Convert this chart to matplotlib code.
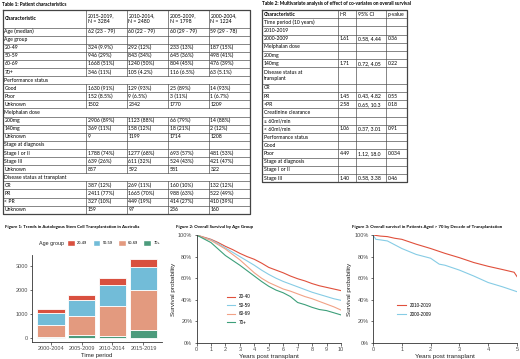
import numpy as np
import matplotlib.pyplot as plt
from matplotlib.patches import Patch

W, H = 520, 359
TAB_FONT = ["Lato", "DejaVu Sans"]
PLOT_FONT = ["Liberation Sans", "DejaVu Sans"]
plt.rcParams["font.family"] = PLOT_FONT

# ======================================================
# DATA - Table 1
# ======================================================
T1_HEAD = ["Characteristic", "2015-2019,\nN = 3284", "2010-2014,\nN = 2480",
           "2005-2009,\nN = 1798", "2000-2004,\nN = 1224"]
T1_ROWS = [
    ["Age (median)", "62 (23 - 79)", "60 (22 - 79)", "60 (29 - 79)", "59 (29 - 78)"],
    ["Age group", "", "", "", ""],
    ["20-49", "324 (9.9%)", "292 (12%)", "233 (13%)", "187 (15%)"],
    ["50-59", "946 (29%)", "843 (34%)", "645 (36%)", "498 (41%)"],
    ["60-69", "1668 (51%)", "1240 (50%)", "804 (45%)", "476 (39%)"],
    ["70+", "346 (11%)", "105 (4.2%)", "116 (6.5%)", "63 (5.1%)"],
    ["Performance status"],
    ["Good", "1630 (91%)", "129 (93%)", "25 (89%)", "14 (93%)"],
    ["Poor", "152 (8.5%)", "9 (6.5%)", "3 (11%)", "1 (6.7%)"],
    ["Unknown", "1502", "2342", "1770", "1209"],
    ["Melphalan dose"],
    ["200mg", "2906 (89%)", "1123 (88%)", "66 (79%)", "14 (88%)"],
    ["140mg", "369 (11%)", "158 (12%)", "18 (21%)", "2 (12%)"],
    ["Unknown", "9", "1199", "1714", "1208"],
    ["Stage at diagnosis", "", "", "", ""],
    ["Stage I or II", "1788 (74%)", "1277 (68%)", "693 (57%)", "481 (53%)"],
    ["Stage III", "639 (26%)", "611 (32%)", "524 (43%)", "421 (47%)"],
    ["Unknown", "857", "592", "581", "322"],
    ["Disease status at transplant"],
    ["CR", "387 (12%)", "269 (11%)", "160 (10%)", "132 (12%)"],
    ["PR", "2411 (77%)", "1665 (70%)", "988 (63%)", "522 (49%)"],
    ["< PR", "327 (10%)", "449 (19%)", "414 (27%)", "410 (39%)"],
    ["Unknown", "159", "97", "236", "160"],
]

# ======================================================
# DATA - Table 2
# ======================================================
T2_HEAD = ["Characteristic", "HR", "95% CI", "p-value"]
T2_ROWS = [
    ["Time period (10 years)", "", "", ""],
    ["2010-2019", "", "", ""],
    ["2000-2009", "1.61", "0.58, 4.44", "0.36"],
    ["Melphalan dose", "", "", ""],
    ["200mg", "", "", ""],
    ["140mg", "1.71", "0.72, 4.05", "0.22"],
    ["Disease status at\ntransplant", "", "", ""],
    ["CR", "", "", ""],
    ["PR", "1.45", "0.43, 4.82", "0.55"],
    ["<PR", "2.58", "0.65, 10.3", "0.18"],
    ["Creatinine clearance", "", "", ""],
    ["\u2265 60ml/min", "", "", ""],
    ["< 60ml/min", "1.06", "0.37, 3.01", "0.91"],
    ["Performance status", "", "", ""],
    ["Good", "", "", ""],
    ["Poor", "4.49", "1.12, 18.0", "0.034"],
    ["Stage at diagnosis", "", "", ""],
    ["Stage I or II", "", "", ""],
    ["Stage III", "1.40", "0.58, 3.38", "0.46"],
]

# ======================================================
# DATA - Figure 1 (counts per time period)
# ======================================================
PERIODS = ["2000-2004", "2005-2009", "2010-2014", "2015-2019"]
N_70 = [63, 116, 105, 346]
N_60 = [476, 804, 1240, 1668]
N_50 = [498, 645, 843, 946]
N_20 = [187, 233, 292, 324]

# ======================================================
# DATA - Figure 2 (survival by age group)
# ======================================================
YRS2 = [0, 0.5, 1, 1.5, 2, 2.5, 3, 3.5, 4, 4.5, 5, 5.5, 6, 6.5, 7, 7.5, 8, 8.5, 9, 9.5, 10]
S_20 = [1.00, .98, .96, .93, .895, .865, .83, .80, .775, .74, .70, .675, .65, .62, .595, .575, .55, .53, .515, .50, .485]
S_50 = [1.00, .975, .955, .92, .88, .84, .80, .76, .72, .675, .635, .60, .57, .545, .52, .495, .47, .45, .43, .41, .395]
S_60 = [1.00, .975, .95, .91, .87, .82, .77, .71, .65, .60, .56, .53, .50, .48, .455, .43, .41, .385, .36, .335, .305]
S_70 = [1.00, .965, .93, .87, .81, .765, .72, .67, .62, .57, .525, .49, .465, .43, .375, .355, .33, .31, .30, .28, .26]

# ======================================================
# DATA - Figure 3 (age > 70 by decade)
# ======================================================
YRS3_A = [0, 0.25, 0.5, 0.75, 1, 1.5, 2, 2.5, 3, 3.5, 4, 4.5, 4.9, 5.0]
S_2010 = [1.00, .99, .985, .97, .96, .915, .875, .83, .79, .745, .71, .68, .655, .615]
YRS3_B = [0, 0.1, 0.25, 0.5, 0.75, 1, 1.5, 2, 2.3, 2.5, 3, 3.5, 4, 4.5, 5]
S_2000 = [1.00, .96, .955, .945, .91, .875, .82, .785, .73, .72, .675, .62, .56, .52, .475]

C_RED, C_BLUE, C_SAL, C_GRN = "#D9503F", "#72BCD8", "#E39A7F", "#4C9B7C"
L_RED, L_BLUE, L_SAL, L_GRN = "#E0503C", "#86CCE5", "#F2A286", "#3D9F7A"
LINE_C = "#555555"
TAB_FS = 3.7


def px_axes(fig, left, top, right, bottom):
    return fig.add_axes([left / W, (H - bottom) / H, (right - left) / W, (bottom - top) / H])


def draw_table(ax, xs, top, head_h, row_h, head, rows, fs):
    y = top
    # header
    ax.plot([xs[0], xs[-1]], [y, y], color=LINE_C, lw=0.5)
    for i, t in enumerate(head):
        ax.text(xs[i] + 1.5, y + head_h / 2, t, fontsize=fs, family=TAB_FONT, va="center",
                ha="left", weight="bold" if i == 0 else "normal", linespacing=1.3)
    for x in xs:
        ax.plot([x, x], [y, y + head_h], color=LINE_C, lw=0.5)
    y += head_h
    for r in rows:
        lines = r[0].count("\n") + 1
        h = row_h * lines
        ax.plot([xs[0], xs[-1]], [y, y], color=LINE_C, lw=0.5)
        ax.text(xs[0] + 1.5, y + h / 2, r[0], fontsize=fs, family=TAB_FONT,
                va="center", ha="left", linespacing=1.4)
        verts = xs if len(r) > 1 else [xs[0], xs[-1]]
        for x in verts:
            ax.plot([x, x], [y, y + h], color=LINE_C, lw=0.5)
        for i, t in enumerate(r[1:], start=1):
            ax.text(xs[i] + 1.5, y + h / 2, t, fontsize=fs, family=TAB_FONT,
                    va="center", ha="left")
        y += h
    ax.plot([xs[0], xs[-1]], [y, y], color=LINE_C, lw=0.5)
    # outer frame a bit heavier
    ax.plot([xs[0], xs[-1], xs[-1], xs[0], xs[0]], [top, top, y, y, top],
            color="#444444", lw=0.9)


def style_axes(ax):
    for s in ["top", "right"]:
        ax.spines[s].set_visible(False)
    for s in ["left", "bottom"]:
        ax.spines[s].set_color("#333333")
        ax.spines[s].set_linewidth(0.6)
    ax.tick_params(length=1.8, width=0.5, color="#333333", pad=1.2,
                   labelcolor="#4d4d4d", labelsize=4.0)


fig = plt.figure(figsize=(W / 100, H / 100), dpi=100)

# ---------------- tables ----------------
ax0 = fig.add_axes([0, 0, 1, 1])
ax0.set_xlim(0, W)
ax0.set_ylim(H, 0)
ax0.axis("off")

ax0.text(2, 4, "Table 1: Patient characteristics", fontsize=3.4, weight="bold",
         family=TAB_FONT, va="center")
ax0.text(262, 4, "Table 2: Multivariate analysis of effect of co-variates on overall survival",
         fontsize=3.4, weight="bold", family=TAB_FONT, va="center")

draw_table(ax0, [3, 86, 127, 168, 209, 250], 10, 17.5, 8.1, T1_HEAD, T1_ROWS, TAB_FS)
draw_table(ax0, [262, 338, 356, 386, 407], 10, 8.2, 8.2, T2_HEAD, T2_ROWS, TAB_FS)

# figure titles
for x, t in [(5, "Figure 1: Trends in Autologous Stem Cell Transplantation in Australia"),
             (176, "Figure 2: Overall Survival by Age Group"),
             (352, "Figure 3: Overall survival in Patients Aged > 70 by Decade of Transplantation")]:
    ax0.text(x, 227, t, fontsize=3.2, weight="bold", family=TAB_FONT, va="center")

# ---------------- Figure 1 ----------------
ax1 = px_axes(fig, 32, 255, 162, 342)
xpos = np.arange(len(PERIODS))
b0 = np.zeros(len(PERIODS))
for vals, col, lab in [(N_70, C_GRN, "70+"), (N_60, C_SAL, "60-69"),
                       (N_50, C_BLUE, "50-59"), (N_20, C_RED, "20-49")]:
    ax1.bar(xpos, vals, bottom=b0, width=0.9, color=col, edgecolor="white",
            linewidth=0.6, label=lab)
    b0 = b0 + np.array(vals)
ax1.set_xlim(-0.6, 3.6)
ax1.set_ylim(-164, 3448)
ax1.set_xticks(xpos)
ax1.set_xticklabels(PERIODS)
ax1.set_yticks([0, 1000, 2000, 3000])
style_axes(ax1)
ax1.set_xlabel("Time period", fontsize=4.3, labelpad=1.2, color="#222222")

ax0.text(39, 243, "Age group", fontsize=3.9, va="center", family=PLOT_FONT, color="#222222")
h1 = [Patch(facecolor=c, edgecolor="white") for c in [C_RED, C_BLUE, C_SAL, C_GRN]]
fig.legend(h1, ["20-49", "50-59", "60-69", "70+"], ncol=4, frameon=False,
           fontsize=2.9, loc="center left", bbox_to_anchor=(67 / W, 1 - 243 / H),
           handlelength=1.9, handleheight=2.0, handletextpad=0.6, columnspacing=1.3,
           borderpad=0, borderaxespad=0)

# ---------------- Figure 2 ----------------
ax2 = px_axes(fig, 196.5, 235, 341, 343)
for s, col, lab in [(S_20, L_RED, "20-40"), (S_50, L_BLUE, "50-59"),
                    (S_60, L_SAL, "60-69"), (S_70, L_GRN, "70+")]:
    ax2.plot(YRS2, s, color=col, lw=0.8, label=lab)
ax2.set_xlim(0, 10)
ax2.set_ylim(0, 1)
ax2.set_xticks(range(0, 11))
ax2.set_yticks([0, .2, .4, .6, .8, 1.0])
ax2.set_yticklabels(["0%", "20%", "40%", "60%", "80%", "100%"])
style_axes(ax2)
ax2.set_xlabel("Years post transplant", fontsize=4.6, labelpad=1.2, color="#222222")
ax2.set_ylabel("Survival probability", fontsize=4.6, labelpad=1.5, color="#222222")
ax2.legend(loc="upper left", bbox_to_anchor=(0.21, 0.45), frameon=False, fontsize=3.3,
           handlelength=1.8, labelspacing=0.75, borderpad=0, borderaxespad=0,
           handletextpad=0.8)

# ---------------- Figure 3 ----------------
ax3 = px_axes(fig, 373, 235, 517, 343)
ax3.plot(YRS3_A, S_2010, color=L_RED, lw=0.8, label="2010-2019")
ax3.plot(YRS3_B, S_2000, color=L_BLUE, lw=0.8, label="2000-2009")
ax3.set_xlim(0, 5)
ax3.set_ylim(0, 1)
ax3.set_xticks(range(0, 6))
ax3.set_yticks([0, .2, .4, .6, .8, 1.0])
ax3.set_yticklabels(["0%", "20%", "40%", "60%", "80%", "100%"])
style_axes(ax3)
ax3.set_xlabel("Years post transplant", fontsize=4.6, labelpad=1.2, color="#222222")
ax3.set_ylabel("Survival probability", fontsize=4.6, labelpad=1.5, color="#222222")
ax3.legend(loc="upper left", bbox_to_anchor=(0.17, 0.37), frameon=False, fontsize=3.3,
           handlelength=1.8, labelspacing=0.8, borderpad=0, borderaxespad=0,
           handletextpad=0.8)

fig.savefig("out.png", dpi=100)
